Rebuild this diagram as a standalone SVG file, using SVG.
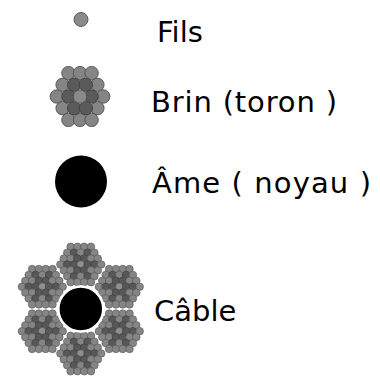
<svg xmlns="http://www.w3.org/2000/svg" xmlns:xlink="http://www.w3.org/1999/xlink" width="380" height="376" viewBox="0 0 380 376">
  <style>
    .label { font-family: "DejaVu Sans", Verdana, sans-serif; font-size: 29px; fill: #000; }
    .w-out { fill: #858585; stroke: #505050; stroke-width: 0.9; }
    .w-in  { fill: #5a5a5a; stroke: #404040; stroke-width: 0.9; }
    .w-mid { fill: #8a8a8a; stroke: #505050; stroke-width: 0.9; }
    .s-out { fill: #858585; stroke: #555; stroke-width: 0.6; }
    .s-in  { fill: #575757; stroke: #3e3e3e; stroke-width: 0.6; }
    .s-mid { fill: #8e8e8e; stroke: #555; stroke-width: 0.6; }
    .core  { fill: #000; }
  </style>
  <defs>
    <!-- 19-wire strand: 1 centre wire, 6 inner wires, 12 outer wires -->
    <g id="strand">
      <circle class="w-out" cx="-11.6" cy="-23.4" r="6.7"/>
      <circle class="w-out" cx="0" cy="-23.4" r="6.7"/>
      <circle class="w-out" cx="11.6" cy="-23.4" r="6.7"/>
      <circle class="w-out" cx="-17.4" cy="-11.7" r="6.7"/>
      <circle class="w-out" cx="17.4" cy="-11.7" r="6.7"/>
      <circle class="w-out" cx="-23.2" cy="0" r="6.7"/>
      <circle class="w-out" cx="23.2" cy="0" r="6.7"/>
      <circle class="w-out" cx="-17.4" cy="11.7" r="6.7"/>
      <circle class="w-out" cx="17.4" cy="11.7" r="6.7"/>
      <circle class="w-out" cx="-11.6" cy="23.4" r="6.7"/>
      <circle class="w-out" cx="0" cy="23.4" r="6.7"/>
      <circle class="w-out" cx="11.6" cy="23.4" r="6.7"/>
      <circle class="w-in" cx="-5.8" cy="-11.7" r="6.7"/>
      <circle class="w-in" cx="5.8" cy="-11.7" r="6.7"/>
      <circle class="w-in" cx="-11.6" cy="0" r="6.7"/>
      <circle class="w-in" cx="11.6" cy="0" r="6.7"/>
      <circle class="w-in" cx="-5.8" cy="11.7" r="6.7"/>
      <circle class="w-in" cx="5.8" cy="11.7" r="6.7"/>
      <circle class="w-mid" cx="0" cy="0" r="6.7"/>
    </g>

    <!-- 37-wire strand of the cable: grey outer wires, dark star, light centre -->
    <g id="strand37">
      <!-- row -3 -->
      <circle class="s-out" cx="-10.2" cy="-17.7" r="3.8"/>
      <circle class="s-out" cx="-3.4" cy="-17.7" r="3.8"/>
      <circle class="s-out" cx="3.4" cy="-17.7" r="3.8"/>
      <circle class="s-out" cx="10.2" cy="-17.7" r="3.8"/>
      <!-- row -2 -->
      <circle class="s-out" cx="-13.6" cy="-11.8" r="3.8"/>
      <circle class="s-in" cx="-6.8" cy="-11.8" r="3.8"/>
      <circle class="s-out" cx="0" cy="-11.8" r="3.8"/>
      <circle class="s-in" cx="6.8" cy="-11.8" r="3.8"/>
      <circle class="s-out" cx="13.6" cy="-11.8" r="3.8"/>
      <!-- row -1 -->
      <circle class="s-out" cx="-17" cy="-5.9" r="3.8"/>
      <circle class="s-out" cx="-10.2" cy="-5.9" r="3.8"/>
      <circle class="s-in" cx="-3.4" cy="-5.9" r="3.8"/>
      <circle class="s-in" cx="3.4" cy="-5.9" r="3.8"/>
      <circle class="s-out" cx="10.2" cy="-5.9" r="3.8"/>
      <circle class="s-out" cx="17" cy="-5.9" r="3.8"/>
      <!-- row 0 -->
      <circle class="s-out" cx="-20.4" cy="0" r="3.8"/>
      <circle class="s-in" cx="-13.6" cy="0" r="3.8"/>
      <circle class="s-in" cx="-6.8" cy="0" r="3.8"/>
      <circle class="s-mid" cx="0" cy="0" r="3.8"/>
      <circle class="s-in" cx="6.8" cy="0" r="3.8"/>
      <circle class="s-in" cx="13.6" cy="0" r="3.8"/>
      <circle class="s-out" cx="20.4" cy="0" r="3.8"/>
      <!-- row 1 -->
      <circle class="s-out" cx="-17" cy="5.9" r="3.8"/>
      <circle class="s-out" cx="-10.2" cy="5.9" r="3.8"/>
      <circle class="s-in" cx="-3.4" cy="5.9" r="3.8"/>
      <circle class="s-in" cx="3.4" cy="5.9" r="3.8"/>
      <circle class="s-out" cx="10.2" cy="5.9" r="3.8"/>
      <circle class="s-out" cx="17" cy="5.9" r="3.8"/>
      <!-- row 2 -->
      <circle class="s-out" cx="-13.6" cy="11.8" r="3.8"/>
      <circle class="s-in" cx="-6.8" cy="11.8" r="3.8"/>
      <circle class="s-out" cx="0" cy="11.8" r="3.8"/>
      <circle class="s-in" cx="6.8" cy="11.8" r="3.8"/>
      <circle class="s-out" cx="13.6" cy="11.8" r="3.8"/>
      <!-- row 3 -->
      <circle class="s-out" cx="-10.2" cy="17.7" r="3.8"/>
      <circle class="s-out" cx="-3.4" cy="17.7" r="3.8"/>
      <circle class="s-out" cx="3.4" cy="17.7" r="3.8"/>
      <circle class="s-out" cx="10.2" cy="17.7" r="3.8"/>
    </g>
  </defs>

  <rect width="380" height="376" fill="#fff"/>

  <g id="fils">
    <circle class="w-mid" cx="81" cy="19.5" r="7"/>
    <text class="label" x="157" y="42">Fils</text>
  </g>

  <g id="brin">
    <use xlink:href="#strand" href="#strand" transform="translate(80,96.5)"/>
    <text class="label" x="151" y="112" font-size="30" textLength="186">Brin (toron )</text>
  </g>

  <g id="ame">
    <circle class="core" cx="81" cy="181.5" r="26"/>
    <text class="label" x="152" y="193" font-size="30" textLength="219">Âme ( noyau )</text>
  </g>

  <g id="cable">
    <!-- six strands laid around the core, 44.5px from its centre -->
    <use href="#strand37" transform="translate(80.8,264.5)"/>
    <use href="#strand37" transform="translate(119.3,286.75)"/>
    <use href="#strand37" transform="translate(119.3,331.25)"/>
    <use href="#strand37" transform="translate(80.8,353.5)"/>
    <use href="#strand37" transform="translate(42.3,331.25)"/>
    <use href="#strand37" transform="translate(42.3,286.75)"/>
    <circle class="core" cx="80.8" cy="309" r="22.5" stroke="#fff" stroke-width="2.6"/>
    <text class="label" x="154" y="321">Câble</text>
  </g>
</svg>
